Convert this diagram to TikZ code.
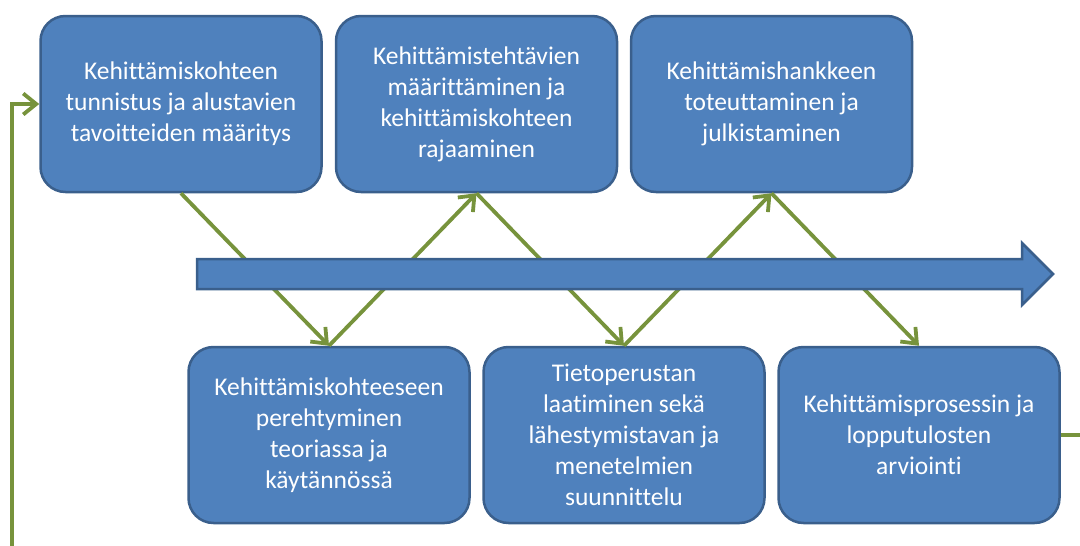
\documentclass[tikz,border=0pt]{standalone}
\usepackage{fontspec}
\setmainfont{Carlito}[Ligatures=NoCommon]
\usetikzlibrary{arrows.meta}
\definecolor{boxfill}{HTML}{4F81BD}
\definecolor{boxline}{HTML}{3A5F8C}
\definecolor{flow}{HTML}{77933C}
\begin{document}
\begin{tikzpicture}[x=1pt,y=-1pt,
  stage/.style={draw=boxline, line width=2.5pt, fill=boxfill, rounded corners=25pt,
    minimum width=281pt, minimum height=176pt, inner sep=0pt, align=center,
    text=white, font=\fontsize{25.5}{31}\selectfont},
  link/.style={draw=flow, line width=3.8pt, -{Straight Barb[length=13pt,width=21pt,line width=3.8pt]}},
  plain/.style={draw=flow, line width=3.8pt}]
\useasboundingbox (0,0) rectangle (1080,546);

% upper row of stages
\node[stage] (s1) at (181,104) {Kehittämiskohteen\\tunnistus ja alustavien\\tavoitteiden määritys};
\node[stage] (s2) at (476.5,104) {Kehittämistehtävien\\määrittäminen ja\\kehittämiskohteen\\rajaaminen};
\node[stage] (s3) at (771.5,104) {Kehittämishankkeen\\toteuttaminen ja\\julkistaminen};
% lower row of stages
\node[stage] (s4) at (329,435) {Kehittämiskohteeseen\\perehtyminen\\teoriassa ja\\käytännössä};
\node[stage] (s5) at (624,435) {Tietoperustan\\laatiminen sekä\\lähestymistavan ja\\menetelmien\\suunnittelu};
\node[stage] (s6) at (919,435) {Kehittämisprosessin ja\\lopputulosten\\arviointi};

% zigzag flow between the stages
\draw[link] (s1.south) -- (s4.north);
\draw[link] (s4.north) -- (s2.south);
\draw[link] (s2.south) -- (s5.north);
\draw[link] (s5.north) -- (s3.south);
\draw[link] (s3.south) -- (s6.north);

% feedback loop leaving and entering the page edges
\coordinate (loopin) at (12,546);
\coordinate (loopout) at (1080,435);
\draw[link] (loopin) |- (s1.west);
\draw[plain] (s6.east) -- (loopout);

% time axis arrow, drawn over the flow lines
\draw[draw=boxline, line width=2.5pt, fill=boxfill, line join=miter]
  (197,259) -- (1022,259) -- (1022,243) -- (1053,274) -- (1022,305) -- (1022,289) -- (197,289) -- cycle;
\end{tikzpicture}
\end{document}
